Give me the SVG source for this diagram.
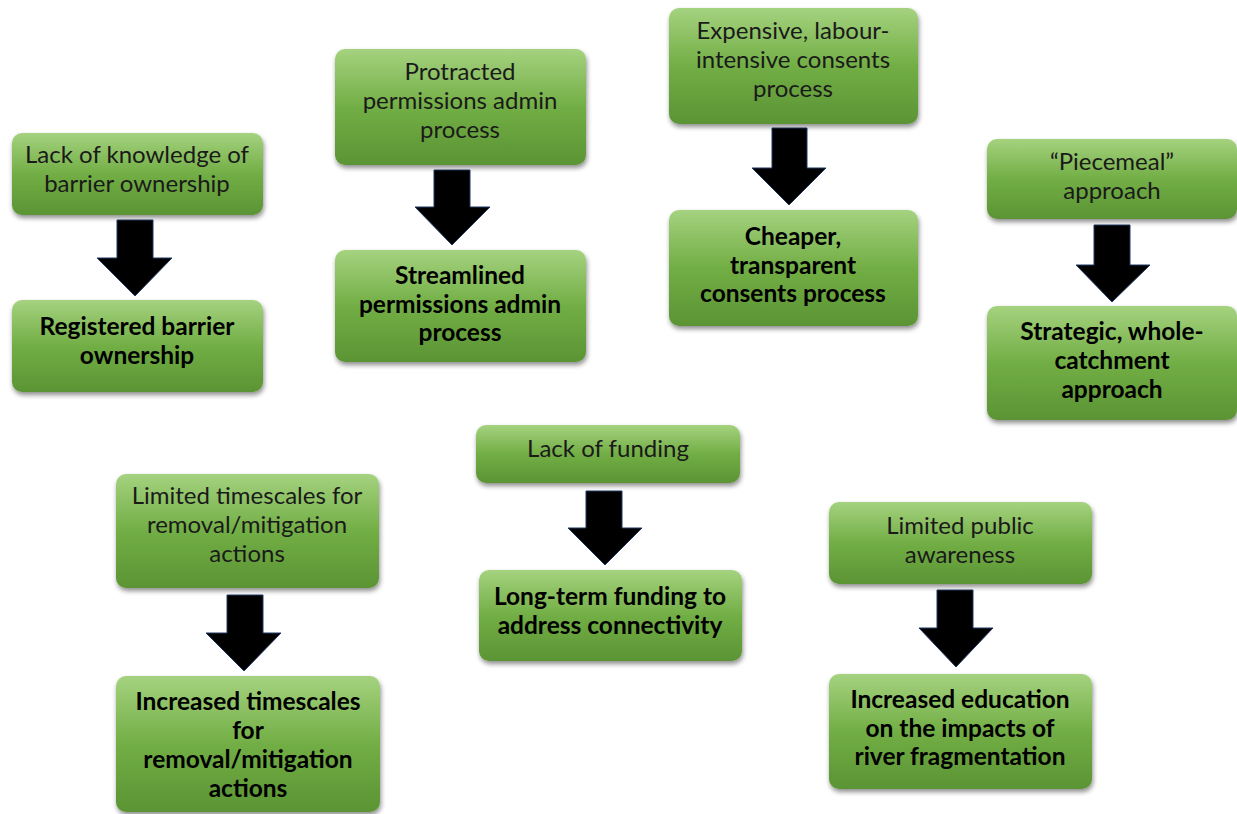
<svg xmlns="http://www.w3.org/2000/svg" width="1237" height="814" viewBox="0 0 1237 814">
<defs>
<linearGradient id="g" x1="0" y1="0" x2="0" y2="1">
<stop offset="0" stop-color="#a5d27f"/>
<stop offset="0.5" stop-color="#72ae45"/>
<stop offset="1" stop-color="#5b9434"/>
</linearGradient>
<filter id="sh" x="-10%" y="-10%" width="120%" height="130%">
<feGaussianBlur in="SourceAlpha" stdDeviation="2.5"/>
<feOffset dx="1" dy="3" result="b"/>
<feComponentTransfer><feFuncA type="linear" slope="0.45"/></feComponentTransfer>
<feMerge><feMergeNode/><feMergeNode in="SourceGraphic"/></feMerge>
</filter>
</defs>
<style>
.box{fill:url(#g);filter:url(#sh)}
.t{font-family:Lato,"Open Sans",sans-serif;font-size:24px;fill:#1a1a1a;text-anchor:middle}
.b{font-weight:bold;fill:#000;font-size:24.5px}
.arr{fill:#000;stroke:#1f3864;stroke-width:1}
</style>
<rect width="1237" height="814" fill="#fff"/>
<g id="connectors">
<path class="arr" d="M117,220 H153 V258 H172 L135,296 L97,258 H117 Z"/>
<path class="arr" d="M434,170 H470 V207 H490 L452,245 L415,207 H434 Z"/>
<path class="arr" d="M772,128 H807 V168 H826 L789,205 L752,168 H772 Z"/>
<path class="arr" d="M1094,225 H1130 V265 H1150 L1112,302 L1076,265 H1094 Z"/>
<path class="arr" d="M227,595 H263 V633 H281 L244,671 L206,633 H227 Z"/>
<path class="arr" d="M586,491 H622 V528 H642 L605,565 L568,528 H586 Z"/>
<path class="arr" d="M937,590 H973 V628 H993 L956,667 L919,628 H937 Z"/>
</g>
<g id="n1"><rect class="box" x="12" y="133" width="251" height="82" rx="10"/>
<text class="t" x="137" y="163">Lack of knowledge of</text><text class="t" x="137" y="192">barrier ownership</text></g>
<g id="n2"><rect class="box" x="12" y="300" width="251" height="92" rx="10"/>
<text class="t b" x="137" y="335">Registered barrier</text><text class="t b" x="137" y="364">ownership</text></g>
<g id="n3"><rect class="box" x="335" y="49" width="251" height="116" rx="10"/>
<text class="t" x="460" y="80">Protracted</text><text class="t" x="460" y="109">permissions admin</text><text class="t" x="460" y="138">process</text></g>
<g id="n4"><rect class="box" x="335" y="250" width="251" height="112" rx="10"/>
<text class="t b" x="460" y="284">Streamlined</text><text class="t b" x="460" y="313">permissions admin</text><text class="t b" x="460" y="341">process</text></g>
<g id="n5"><rect class="box" x="669" y="8" width="249" height="116" rx="10"/>
<text class="t" x="793" y="39">Expensive, labour-</text><text class="t" x="793" y="68">intensive consents</text><text class="t" x="793" y="97">process</text></g>
<g id="n6"><rect class="box" x="669" y="210" width="249" height="116" rx="10"/>
<text class="t b" x="793" y="245">Cheaper,</text><text class="t b" x="793" y="274">transparent</text><text class="t b" x="793" y="302">consents process</text></g>
<g id="n7"><rect class="box" x="987" y="139" width="250" height="80" rx="10"/>
<text class="t" x="1112" y="170">“Piecemeal”</text><text class="t" x="1112" y="199">approach</text></g>
<g id="n8"><rect class="box" x="987" y="306" width="250" height="114" rx="10"/>
<text class="t b" x="1112" y="340">Strategic, whole-</text><text class="t b" x="1112" y="369">catchment</text><text class="t b" x="1112" y="398">approach</text></g>
<g id="n9"><rect class="box" x="116" y="474" width="263" height="114" rx="10"/>
<text class="t" x="247" y="504">Limited timescales for</text><text class="t" x="247" y="533">removal/mitigation</text><text class="t" x="247" y="562">actions</text></g>
<g id="n10"><rect class="box" x="116" y="676" width="264" height="136" rx="10"/>
<text class="t b" x="248" y="710">Increased timescales</text><text class="t b" x="248" y="739">for</text><text class="t b" x="248" y="768">removal/mitigation</text><text class="t b" x="248" y="797">actions</text></g>
<g id="n11"><rect class="box" x="476" y="425" width="264" height="58" rx="10"/>
<text class="t" x="608" y="457">Lack of funding</text></g>
<g id="n12"><rect class="box" x="479" y="570" width="263" height="91" rx="10"/>
<text class="t b" x="610" y="605">Long-term funding to</text><text class="t b" x="610" y="634">address connectivity</text></g>
<g id="n13"><rect class="box" x="829" y="502" width="263" height="82" rx="10"/>
<text class="t" x="960" y="534">Limited public</text><text class="t" x="960" y="563">awareness</text></g>
<g id="n14"><rect class="box" x="829" y="674" width="263" height="115" rx="10"/>
<text class="t b" x="960" y="708">Increased education</text><text class="t b" x="960" y="737">on the impacts of</text><text class="t b" x="960" y="765">river fragmentation</text></g>
</svg>
